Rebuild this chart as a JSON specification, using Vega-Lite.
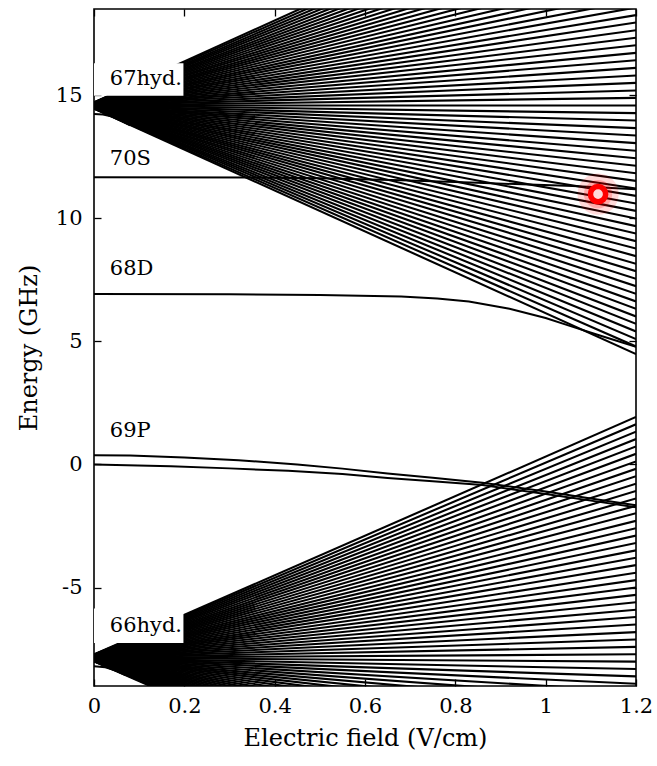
{
  "$schema": "https://vega.github.io/schema/vega-lite/v6.json",
  "width": 542,
  "height": 677,
  "autosize": "none",
  "padding": {"left": 94, "top": 9, "right": 21, "bottom": 80},
  "background": "white",
  "config": {
    "view": {"stroke": "black", "strokeWidth": 1.6},
    "font": "DejaVu Serif",
    "axis": {"grid": false, "domain": false, "tickColor": "black", "tickSize": -7, "tickWidth": 1.3, "labelFont": "DejaVu Serif", "labelFontSize": 21, "labelColor": "black", "labelFlush": false, "labelOverlap": false, "titleFont": "DejaVu Serif", "titleFontSize": 24, "titleFontWeight": "normal", "titleColor": "black"}
  },
  "datasets": {
    "man67": [
      {"k":-33,"e0":14.45,"e1":4.48},{"k":-32,"e0":14.45,"e1":4.79},{"k":-31,"e0":14.46,"e1":5.09},{"k":-30,"e0":14.46,"e1":5.40},{"k":-29,"e0":14.46,"e1":5.71},{"k":-28,"e0":14.47,"e1":6.01},{"k":-27,"e0":14.47,"e1":6.32},{"k":-26,"e0":14.48,"e1":6.62},{"k":-25,"e0":14.48,"e1":6.93},{"k":-24,"e0":14.48,"e1":7.24},{"k":-23,"e0":14.49,"e1":7.54},{"k":-22,"e0":14.49,"e1":7.85},{"k":-21,"e0":14.50,"e1":8.15},{"k":-20,"e0":14.50,"e1":8.46},{"k":-19,"e0":14.50,"e1":8.77},{"k":-18,"e0":14.51,"e1":9.07},{"k":-17,"e0":14.51,"e1":9.38},{"k":-16,"e0":14.52,"e1":9.68},{"k":-15,"e0":14.52,"e1":9.99},{"k":-14,"e0":14.52,"e1":10.30},{"k":-13,"e0":14.53,"e1":10.60},{"k":-12,"e0":14.53,"e1":10.91},{"k":-11,"e0":14.54,"e1":11.21},{"k":-10,"e0":14.54,"e1":11.52},{"k":-9,"e0":14.54,"e1":11.83},{"k":-8,"e0":14.55,"e1":12.13},{"k":-7,"e0":14.55,"e1":12.44},{"k":-6,"e0":14.56,"e1":12.74},{"k":-5,"e0":14.56,"e1":13.05},{"k":-4,"e0":14.56,"e1":13.36},{"k":-3,"e0":14.57,"e1":13.66},{"k":-2,"e0":14.57,"e1":13.97},{"k":-1,"e0":14.58,"e1":14.27},{"k":0,"e0":14.58,"e1":14.58},{"k":1,"e0":14.58,"e1":14.89},{"k":2,"e0":14.59,"e1":15.19},{"k":3,"e0":14.59,"e1":15.50},{"k":4,"e0":14.60,"e1":15.80},{"k":5,"e0":14.60,"e1":16.11},{"k":6,"e0":14.60,"e1":16.42},{"k":7,"e0":14.61,"e1":16.72},{"k":8,"e0":14.61,"e1":17.03},{"k":9,"e0":14.62,"e1":17.33},{"k":10,"e0":14.62,"e1":17.64},{"k":11,"e0":14.62,"e1":17.95},{"k":12,"e0":14.63,"e1":18.25},{"k":13,"e0":14.63,"e1":18.56},{"k":14,"e0":14.64,"e1":18.86},{"k":15,"e0":14.64,"e1":19.17},{"k":16,"e0":14.64,"e1":19.48},{"k":17,"e0":14.65,"e1":19.78},{"k":18,"e0":14.65,"e1":20.09},{"k":19,"e0":14.66,"e1":20.39},{"k":20,"e0":14.66,"e1":20.70},{"k":21,"e0":14.66,"e1":21.01},{"k":22,"e0":14.67,"e1":21.31},{"k":23,"e0":14.67,"e1":21.62},{"k":24,"e0":14.68,"e1":21.92},{"k":25,"e0":14.68,"e1":22.23},{"k":26,"e0":14.68,"e1":22.54},{"k":27,"e0":14.69,"e1":22.84},{"k":28,"e0":14.69,"e1":23.15},{"k":29,"e0":14.70,"e1":23.45},{"k":30,"e0":14.70,"e1":23.76},{"k":31,"e0":14.70,"e1":24.07},{"k":32,"e0":14.71,"e1":24.37},{"k":33,"e0":14.71,"e1":24.68}
    ],
    "man66": [
      {"k":-65,"e0":-8.000,"e1":-17.65},{"k":-63,"e0":-7.996,"e1":-17.35},{"k":-61,"e0":-7.991,"e1":-17.05},{"k":-59,"e0":-7.987,"e1":-16.75},{"k":-57,"e0":-7.983,"e1":-16.45},{"k":-55,"e0":-7.978,"e1":-16.15},{"k":-53,"e0":-7.974,"e1":-15.84},{"k":-51,"e0":-7.970,"e1":-15.54},{"k":-49,"e0":-7.966,"e1":-15.24},{"k":-47,"e0":-7.961,"e1":-14.94},{"k":-45,"e0":-7.957,"e1":-14.64},{"k":-43,"e0":-7.953,"e1":-14.34},{"k":-41,"e0":-7.948,"e1":-14.04},{"k":-39,"e0":-7.944,"e1":-13.74},{"k":-37,"e0":-7.940,"e1":-13.43},{"k":-35,"e0":-7.935,"e1":-13.13},{"k":-33,"e0":-7.931,"e1":-12.83},{"k":-31,"e0":-7.927,"e1":-12.53},{"k":-29,"e0":-7.922,"e1":-12.23},{"k":-27,"e0":-7.918,"e1":-11.93},{"k":-25,"e0":-7.914,"e1":-11.63},{"k":-23,"e0":-7.910,"e1":-11.32},{"k":-21,"e0":-7.905,"e1":-11.02},{"k":-19,"e0":-7.901,"e1":-10.72},{"k":-17,"e0":-7.897,"e1":-10.42},{"k":-15,"e0":-7.892,"e1":-10.12},{"k":-13,"e0":-7.888,"e1":-9.82},{"k":-11,"e0":-7.884,"e1":-9.52},{"k":-9,"e0":-7.879,"e1":-9.22},{"k":-7,"e0":-7.875,"e1":-8.91},{"k":-5,"e0":-7.871,"e1":-8.61},{"k":-3,"e0":-7.866,"e1":-8.31},{"k":-1,"e0":-7.862,"e1":-8.01},{"k":1,"e0":-7.858,"e1":-7.71},{"k":3,"e0":-7.854,"e1":-7.41},{"k":5,"e0":-7.849,"e1":-7.11},{"k":7,"e0":-7.845,"e1":-6.81},{"k":9,"e0":-7.841,"e1":-6.50},{"k":11,"e0":-7.836,"e1":-6.20},{"k":13,"e0":-7.832,"e1":-5.90},{"k":15,"e0":-7.828,"e1":-5.60},{"k":17,"e0":-7.823,"e1":-5.30},{"k":19,"e0":-7.819,"e1":-5.00},{"k":21,"e0":-7.815,"e1":-4.70},{"k":23,"e0":-7.810,"e1":-4.40},{"k":25,"e0":-7.806,"e1":-4.09},{"k":27,"e0":-7.802,"e1":-3.79},{"k":29,"e0":-7.798,"e1":-3.49},{"k":31,"e0":-7.793,"e1":-3.19},{"k":33,"e0":-7.789,"e1":-2.89},{"k":35,"e0":-7.785,"e1":-2.59},{"k":37,"e0":-7.780,"e1":-2.29},{"k":39,"e0":-7.776,"e1":-1.98},{"k":41,"e0":-7.772,"e1":-1.68},{"k":43,"e0":-7.767,"e1":-1.38},{"k":45,"e0":-7.763,"e1":-1.08},{"k":47,"e0":-7.759,"e1":-0.78},{"k":49,"e0":-7.754,"e1":-0.48},{"k":51,"e0":-7.750,"e1":-0.18},{"k":53,"e0":-7.746,"e1":0.12},{"k":55,"e0":-7.742,"e1":0.43},{"k":57,"e0":-7.737,"e1":0.73},{"k":59,"e0":-7.733,"e1":1.03},{"k":61,"e0":-7.729,"e1":1.33},{"k":63,"e0":-7.724,"e1":1.63},{"k":65,"e0":-7.720,"e1":1.93}
    ],
    "levels": [
      {"s":"70S","f":0,"e":11.67},{"s":"70S","f":0.35,"e":11.66},{"s":"70S","f":0.5,"e":11.62},{"s":"70S","f":0.68,"e":11.54},{"s":"70S","f":0.85,"e":11.44},{"s":"70S","f":1.06,"e":11.31},{"s":"70S","f":1.2,"e":11.18},
      {"s":"68D","f":0,"e":6.92},{"s":"68D","f":0.3,"e":6.91},{"s":"68D","f":0.5,"e":6.88},{"s":"68D","f":0.68,"e":6.82},{"s":"68D","f":0.76,"e":6.74},{"s":"68D","f":0.83,"e":6.62},{"s":"68D","f":0.92,"e":6.32},{"s":"68D","f":1.0,"e":5.95},{"s":"68D","f":1.05,"e":5.65},{"s":"68D","f":1.12,"e":5.24},{"s":"68D","f":1.2,"e":4.78},
      {"s":"69Pa","f":0,"e":0.37},{"s":"69Pa","f":0.08,"e":0.36},{"s":"69Pa","f":0.2,"e":0.28},{"s":"69Pa","f":0.32,"e":0.17},{"s":"69Pa","f":0.45,"e":0.0},{"s":"69Pa","f":0.55,"e":-0.17},{"s":"69Pa","f":0.65,"e":-0.37},{"s":"69Pa","f":0.75,"e":-0.54},{"s":"69Pa","f":0.86,"e":-0.74},{"s":"69Pa","f":1.0,"e":-1.1},{"s":"69Pa","f":1.1,"e":-1.38},{"s":"69Pa","f":1.2,"e":-1.66},
      {"s":"69Pb","f":0,"e":0.0},{"s":"69Pb","f":0.17,"e":-0.07},{"s":"69Pb","f":0.3,"e":-0.16},{"s":"69Pb","f":0.43,"e":-0.26},{"s":"69Pb","f":0.55,"e":-0.39},{"s":"69Pb","f":0.65,"e":-0.55},{"s":"69Pb","f":0.75,"e":-0.68},{"s":"69Pb","f":0.86,"e":-0.84},{"s":"69Pb","f":1.0,"e":-1.2},{"s":"69Pb","f":1.1,"e":-1.47},{"s":"69Pb","f":1.2,"e":-1.74},
      {"s":"67F","f":0,"e":14.23},{"s":"67F","f":0.02,"e":14.21},{"s":"67F","f":0.04,"e":14.13},{"s":"67F","f":0.06,"e":13.96},{"s":"67F","f":0.08,"e":13.77},
      {"s":"66F","f":0,"e":-8.2},{"s":"66F","f":0.025,"e":-8.24},{"s":"66F","f":0.05,"e":-8.38},{"s":"66F","f":0.07,"e":-8.56}
    ],
    "boxes": [
      {"f0":0,"f1":0.198,"e0":14.98,"e1":16.3},
      {"f0":0,"f1":0.198,"e0":-7.25,"e1":-5.85}
    ],
    "labels": [
      {"t":"67hyd.","f":0.035,"e":15.65},
      {"t":"70S","f":0.035,"e":12.4},
      {"t":"68D","f":0.035,"e":7.93},
      {"t":"69P","f":0.035,"e":1.35},
      {"t":"66hyd.","f":0.035,"e":-6.57}
    ],
    "marker": [{"f":1.116,"e":10.98}]
  },
  "layer": [
    {
      "data": {"name": "man67"},
      "mark": {"type": "rule", "clip": true, "color": "black", "strokeWidth": 2.1},
      "encoding": {
        "x": {"datum": 0, "type": "quantitative", "scale": {"domain": [0, 1.2], "nice": false, "zero": false}, "axis": {"orient": "bottom", "title": "Electric field (V/cm)", "values": [0, 0.2, 0.4, 0.6, 0.8, 1, 1.2], "labelExpr": "datum.value + ''", "labelPadding": 16, "titlePadding": 10}},
        "x2": {"datum": 1.2},
        "y": {"field": "e0", "type": "quantitative", "scale": {"domain": [-9, 18.5], "nice": false, "zero": false}, "axis": {"orient": "left", "title": "Energy (GHz)", "values": [-5, 0, 5, 10, 15], "labelExpr": "datum.value + ''", "labelPadding": 19, "titlePadding": 14}},
        "y2": {"field": "e1"}
      }
    },
    {
      "data": {"name": "man66"},
      "mark": {"type": "rule", "clip": true, "color": "black", "strokeWidth": 2.1},
      "encoding": {
        "x": {"datum": 0, "type": "quantitative", "axis": null},
        "x2": {"datum": 1.2},
        "y": {"field": "e0", "type": "quantitative", "axis": null},
        "y2": {"field": "e1"}
      }
    },
    {
      "data": {"name": "levels"},
      "mark": {"type": "line", "clip": true, "color": "black", "strokeWidth": 2},
      "encoding": {
        "x": {"field": "f", "type": "quantitative", "axis": null},
        "y": {"field": "e", "type": "quantitative", "axis": null},
        "detail": {"field": "s"}
      }
    },
    {
      "data": {"name": "boxes"},
      "mark": {"type": "rect", "color": "white"},
      "encoding": {
        "x": {"field": "f0", "type": "quantitative", "axis": null},
        "x2": {"field": "f1"},
        "y": {"field": "e0", "type": "quantitative", "axis": null},
        "y2": {"field": "e1"}
      }
    },
    {
      "data": {"name": "labels"},
      "mark": {"type": "text", "align": "left", "baseline": "middle", "font": "DejaVu Serif", "fontSize": 21, "color": "black"},
      "encoding": {
        "x": {"field": "f", "type": "quantitative", "axis": null},
        "y": {"field": "e", "type": "quantitative", "axis": null},
        "text": {"field": "t"}
      }
    },
    {
      "data": {"name": "marker"},
      "mark": {"type": "circle", "color": "#ff0000", "opacity": 0.15, "size": 1700},
      "encoding": {
        "x": {"field": "f", "type": "quantitative", "axis": null},
        "y": {"field": "e", "type": "quantitative", "axis": null}
      }
    },
    {
      "data": {"name": "marker"},
      "mark": {"type": "circle", "color": "#ff0000", "opacity": 0.22, "size": 800},
      "encoding": {
        "x": {"field": "f", "type": "quantitative", "axis": null},
        "y": {"field": "e", "type": "quantitative", "axis": null}
      }
    },
    {
      "data": {"name": "marker"},
      "mark": {"type": "point", "shape": "circle", "filled": false, "fill": "#ffd8d8", "fillOpacity": 1, "stroke": "#ff0000", "strokeWidth": 5.5, "opacity": 1, "size": 230},
      "encoding": {
        "x": {"field": "f", "type": "quantitative", "axis": {"orient": "top", "labels": false, "title": null, "values": [0, 0.2, 0.4, 0.6, 0.8, 1, 1.2]}},
        "y": {"field": "e", "type": "quantitative", "axis": {"orient": "right", "labels": false, "title": null, "values": [-5, 0, 5, 10, 15]}}
      }
    }
  ],
  "resolve": {"axis": {"x": "independent", "y": "independent"}}
}
